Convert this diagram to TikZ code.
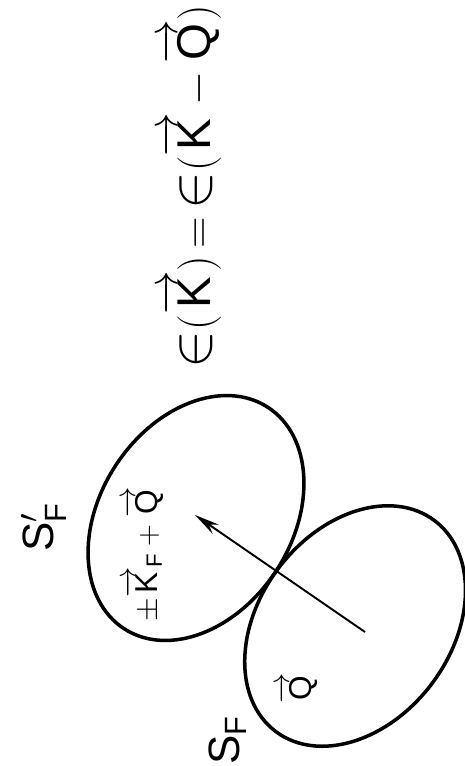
\documentclass[tikz,border=0pt]{standalone}
\usepackage{fontspec}
\setmainfont{Liberation Sans}
\usepackage{amsmath}
\usetikzlibrary{arrows.meta}

\newcommand{\vk}[1]{\overrightarrow{\mathrm{#1}}}
\newcommand{\en}{\mathord{\scalebox{1.3}{$\in$}}}

\begin{document}
\begin{tikzpicture}[fermi/.style={line width=2pt},
		lbl/.style={rotate=90, inner sep=0pt, font=\fontsize{25}{28}\selectfont},
		small/.style={rotate=90, inner sep=0pt, font=\fontsize{18}{20}\selectfont}]
		\useasboundingbox (0, 0) rectangle (9.3, -15.32);
		% the two Fermi surfaces
		\coordinate (cSp) at (3.92, -10.36);
		\coordinate (cS) at (7.10, -12.52);
		\draw[fermi, rotate around={57:(cSp)}] (cSp) ellipse (2.64 and 1.92);
		\draw[fermi, rotate around={53:(cS)}] (cS) ellipse (2.64 and 1.92);
		% shift vector
		\coordinate (qtail) at (7.30, -12.64);
		\coordinate (qtip) at (3.90, -10.30);
		\draw[line width=1.1pt, -{Stealth[length=5mm, width=2.2mm]}] (qtail) -- (qtip);
		% labels
		\node[lbl, font=\fontsize{27}{30}\selectfont] (eqn) at (3.82, -3.73)
			{$\en(\vk{K})\,{=}\,\en(\vk{K}\,{-}\,\vk{Q})$};
		\node[small] (kfq) at (2.87, -11.09) {$\pm\vk{K}_{\mathrm{F}}+\vk{Q}$};
		\node[small] (qvec) at (5.95, -13.76) {$\vk{Q}$};
		\node[lbl] (sf) at (4.55, -14.80) {$\mathrm{S}_{\mathrm{F}}$};
		\node[lbl] (sfp) at (0.87, -10.55) {$\mathrm{S}'_{\mathrm{F}}$};
	\end{tikzpicture}
\end{document}
